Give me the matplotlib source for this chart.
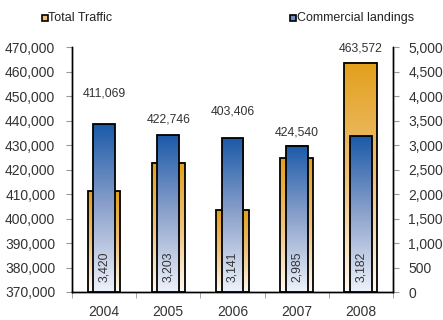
import numpy as np
import matplotlib
matplotlib.use("Agg")
import matplotlib.pyplot as plt
from matplotlib.colors import LinearSegmentedColormap
from matplotlib.patches import Rectangle
from matplotlib.ticker import FuncFormatter, MultipleLocator, FixedLocator

plt.rcParams['font.family'] = ['Liberation Sans', 'DejaVu Sans']

# data
years = ["2004", "2005", "2006", "2007", "2008"]
total_traffic = [411069, 422746, 403406, 424540, 463572]
commercial_landings = [3420, 3203, 3141, 2985, 3182]
# where the traffic labels sit (left axis units), placed by hand like the original
traffic_label_y = [451200, 440600, 443500, 435300, 469600]

base = 370000
x = np.arange(len(years))

orange_cmap = LinearSegmentedColormap.from_list("o", ["#fffaf2", "#efc27a", "#e2a01c"])
blue_cmap = LinearSegmentedColormap.from_list("b", ["#eef2fa", "#8ea3cc", "#1b5aa8"])

fig = plt.figure(figsize=(4.43, 3.2), dpi=100)
ax = fig.add_axes([0.1625, 0.0875, 0.7245, 0.7655])
ax2 = ax.twinx()

grad = np.linspace(0, 1, 256).reshape(-1, 1)

def gradient_bars(axis, bars, cmap):
  for b in bars:
    x0, y0 = b.get_x(), b.get_y()
    w, h = b.get_width(), b.get_height()
    axis.imshow(grad, cmap=cmap, origin="lower", aspect="auto",
                extent=(x0, x0 + w, y0, y0 + h), zorder=1, interpolation="bilinear")

tt = np.array(total_traffic)
bars1 = ax.bar(x, tt - base, bottom=base, width=0.51, facecolor="none",
               edgecolor="black", linewidth=1.3, zorder=2)
gradient_bars(ax, bars1, orange_cmap)

bars2 = ax2.bar(x, commercial_landings, width=0.34, facecolor="none",
                edgecolor="black", linewidth=1.3, zorder=2)
gradient_bars(ax2, bars2, blue_cmap)

ax.set_xlim(-0.5, 4.5)
ax.set_ylim(370000, 470000)
ax2.set_ylim(0, 5000)

ax.yaxis.set_major_locator(MultipleLocator(10000))
ax2.yaxis.set_major_locator(MultipleLocator(500))
fmt = FuncFormatter(lambda v, p: "{:,.0f}".format(v))
ax.yaxis.set_major_formatter(fmt)
ax2.yaxis.set_major_formatter(fmt)

ax.set_xticks(x)
ax.set_xticklabels(years)
ax.xaxis.set_minor_locator(FixedLocator(np.arange(-0.5, 5, 1)))
ax.tick_params(axis="x", which="major", length=0, pad=9, labelsize=10, colors="#333333")
ax.tick_params(axis="x", which="minor", length=4, color="#999999")
ax.tick_params(axis="y", length=4, color="#999999", labelsize=10, labelcolor="#333333", pad=8)
ax2.tick_params(axis="y", length=4, color="#999999", labelsize=10, labelcolor="#333333", pad=7)

for a in (ax, ax2):
  a.spines["top"].set_visible(False)
  for s in ("left", "right", "bottom"):
    a.spines[s].set_linewidth(1.0)
    a.spines[s].set_color("black")

for i in range(len(years)):
  ax.text(x[i], traffic_label_y[i], "{:,}".format(total_traffic[i]), ha="center",
          va="center", fontsize=8.8, color="#333333", zorder=5, clip_on=False)
  ax2.text(x[i], 510, "{:,}".format(commercial_landings[i]), ha="center", va="center",
           rotation=90, fontsize=8.8, color="#333333", zorder=5)

# legend
fig.patches.append(Rectangle((42 / 443, 1 - 21 / 320), 6 / 443, 6 / 320, transform=fig.transFigure,
                             facecolor="#efc27a", edgecolor="black", linewidth=1.2))
fig.text(48 / 443, 1 - 18 / 320, "Total Traffic", fontsize=9, color="#222222", ha="left", va="center")
fig.patches.append(Rectangle((290 / 443, 1 - 21 / 320), 6 / 443, 6 / 320, transform=fig.transFigure,
                             facecolor="#6f8cc4", edgecolor="black", linewidth=1.2))
fig.text(297 / 443, 1 - 18 / 320, "Commercial landings", fontsize=9, color="#222222", ha="left", va="center")

fig.savefig("out.png", dpi=100)
